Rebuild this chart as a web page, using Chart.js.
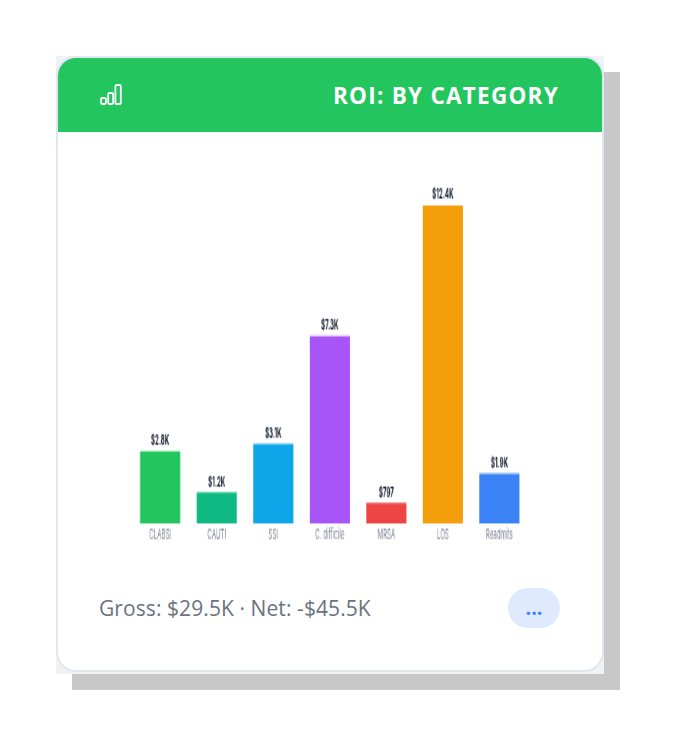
<!DOCTYPE html>
<html>
<head>
<meta charset="utf-8">
<script src="https://cdn.jsdelivr.net/npm/chart.js@4/dist/chart.umd.min.js"></script>
<style>
html, body { margin: 0; padding: 0; background: #fff; width: 676px; height: 746px; overflow: hidden; font-family: "Open Sans", sans-serif; }
.shade { position: absolute; left: 72px; top: 72px; width: 548px; height: 618px; background: #c8c8c8; }
.back { position: absolute; left: 56px; top: 56px; width: 548px; height: 618px; background: #f1f2f6; }
.card { position: absolute; left: 56px; top: 56px; width: 544px; height: 612px; background: #fff; border: 2px solid #e2e6f0; border-radius: 20px; overflow: hidden; }
.head { position: absolute; left: 0; top: 0; width: 544px; height: 74px; background: #22c55e; }
.head svg { position: absolute; left: 42px; top: 25px; }
.head .title { position: absolute; right: 43px; top: 22px; color: #fff; font-size: 22.5px; font-weight: 700; letter-spacing: 1.25px; line-height: 32px; white-space: nowrap; }
.foot { position: absolute; left: 41px; top: 534px; font-size: 21px; letter-spacing: 0.08px; line-height: 32px; color: #6b7280; white-space: nowrap; }
.more { position: absolute; left: 450px; top: 530px; width: 52px; height: 40px; border-radius: 20px; background: #e0eafe; color: #3b82f6; font-size: 20px; font-weight: 700; line-height: 39px; text-align: center; }
#chart { position: absolute; left: 98px; top: 160px; width: 462px !important; height: 400px !important; }
</style>
</head>
<body>
<div class="shade"></div>
<div class="back"></div>
<div class="card">
  <div class="head">
    <svg width="24" height="24" viewBox="0 0 24 24" fill="none" stroke="#fff" stroke-width="1.8">
      <rect x="1" y="15" width="5" height="6" rx="1.4"/>
      <rect x="8.2" y="10" width="5" height="11" rx="1.4"/>
      <rect x="15.4" y="2" width="5.4" height="19" rx="1.6"/>
    </svg>
    <div class="title">ROI: BY CATEGORY</div>
  </div>
  <div class="foot">Gross: $29.5K · Net: -$45.5K</div>
  <div class="more">...</div>
</div>
<canvas id="chart" width="600" height="229"></canvas>
<script>
const categories = ['CLABSI', 'CAUTI', 'SSI', 'C. difficile', 'MRSA', 'LOS', 'Readmits'];
const roi_values = [2800, 1210, 3090, 7300, 797, 12400, 1930];
const bar_colors = ['#22c55e', '#10b981', '#0ea5e9', '#a855f7', '#ef4444', '#f59e0b', '#3b82f6'];

function money(v) {
    if (v >= 1000) return '$' + (v / 1000).toFixed(1) + 'K';
    return '$' + v;
}

// labels above the bars
const value_labels = {
    id: 'value_labels',
    afterDatasetsDraw(chart) {
        const ctx = chart.ctx;
        const bars = chart.getDatasetMeta(0).data;
        ctx.save();
        ctx.font = 'bold 8px Inter, sans-serif';
        ctx.fillStyle = '#0f172a';
        ctx.textAlign = 'center';
        ctx.textBaseline = 'bottom';
        bars.forEach(function (bar, i) {
            ctx.fillText(money(roi_values[i]), bar.x, bar.y - 2);
        });
        ctx.restore();
    }
};

let ctx = document.getElementById('chart').getContext('2d');
let roiChart = new Chart(ctx, {
    type: 'bar',
    data: {
        labels: categories,
        datasets: [{
            data: roi_values,
            backgroundColor: bar_colors,
            barPercentage: 0.71,
            categoryPercentage: 1
        }]
    },
    options: {
        responsive: false,
        animation: false,
        layout: { padding: { left: 44, right: 42, top: 26, bottom: 8.4 } },
        plugins: { legend: { display: false }, tooltip: { enabled: false } },
        scales: {
            x: {
                grid: { display: false, drawTicks: false },
                border: { display: false },
                ticks: { color: '#7b8494', padding: 1.55, font: { family: 'Inter', size: 8 }, maxRotation: 0, autoSkip: false }
            },
            y: { display: false, min: 0, max: 12400 }
        }
    },
    plugins: [value_labels]
});
</script>
</body>
</html>
